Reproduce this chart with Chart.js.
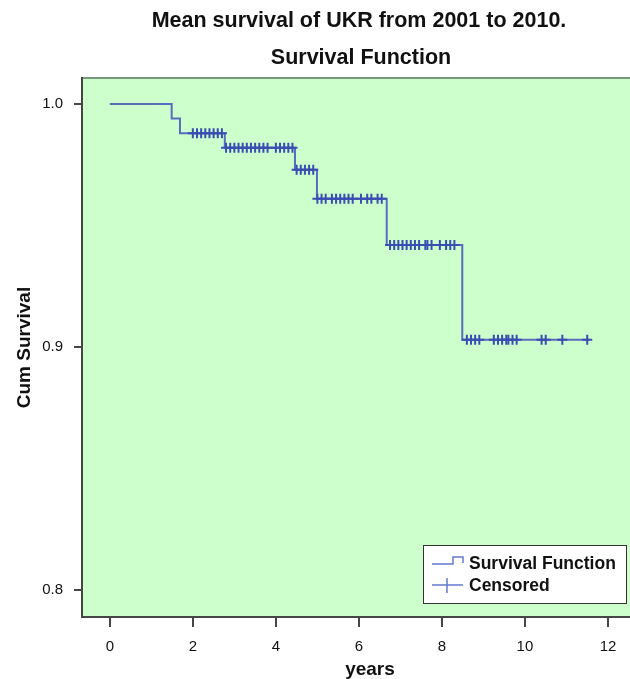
<!DOCTYPE html>
<html>
<head>
<meta charset="utf-8">
<script src="https://cdn.jsdelivr.net/npm/chart.js@4/dist/chart.umd.min.js"></script>
<style>
    html, body { margin: 0; padding: 0; background: #fff; }
    #wrap { width: 630px; height: 679px; }
</style>
</head>
<body>
<div id="wrap"><canvas id="survivalChart" width="630" height="679"></canvas></div>
<script>
// step points of the Kaplan-Meier curve (time in years, cumulative survival)
const eventTimes = [0, 1.49, 1.69, 2.77, 4.46, 4.99, 6.67, 8.49, 11.55];
const survival = [1.0, 0.994, 0.988, 0.982, 0.973, 0.961, 0.942, 0.903, 0.903];

// censored observations (time in years)
const censoredTimes = [
    2.0, 2.1, 2.2, 2.3, 2.4, 2.5, 2.6, 2.7,
    2.8, 2.9, 3.0, 3.1, 3.2, 3.3, 3.4, 3.5, 3.6, 3.7, 3.8, 4.0, 4.1, 4.2, 4.3, 4.4,
    4.5, 4.6, 4.7, 4.8, 4.9,
    5.0, 5.1, 5.2, 5.35, 5.45, 5.55, 5.65, 5.75, 5.85, 6.05, 6.2, 6.3, 6.45, 6.55,
    6.75, 6.85, 6.95, 7.05, 7.15, 7.25, 7.35, 7.45, 7.6, 7.65, 7.75, 7.95, 8.1, 8.2, 8.3,
    8.6, 8.7, 8.8, 8.9, 9.25, 9.35, 9.45, 9.55, 9.6, 9.7, 9.8, 10.4, 10.5, 10.9, 11.5
];

const xTicks = [0, 2, 4, 6, 8, 10, 12];
const yTicks = [0.8, 0.9, 1.0];

const titleLines = ["Mean survival of UKR from 2001 to 2010.", "Survival Function"];
const xTitle = "years";
const yTitle = "Cum Survival";

const lineBlue = 'rgb(88, 108, 192)';
const markBlue = 'rgb(58, 78, 178)';
const plotGreen = 'rgb(204, 255, 204)';
const axisGrey = 'rgb(70, 70, 70)';
const fontFamily = '"Liberation Sans", Arial, sans-serif';

// survival value at time t
function survivalAt(t) {
    let s = survival[0];
    for (let i = 0; i < eventTimes.length; i++) {
        if (eventTimes[i] <= t) s = survival[i];
    }
    return s;
}

const curvePoints = eventTimes.map((t, i) => ({ x: t, y: survival[i] }));
const censoredPoints = censoredTimes.map(t => ({ x: t, y: survivalAt(t) }));

const spssLook = {
    id: 'spssLook',
    beforeDraw(chart) {
        const { ctx, chartArea } = chart;
        ctx.save();
        ctx.fillStyle = plotGreen;
        ctx.fillRect(chartArea.left, chartArea.top, chartArea.right - chartArea.left, chartArea.bottom - chartArea.top);
        ctx.strokeStyle = 'rgb(120, 150, 120)';
        ctx.lineWidth = 2;
        ctx.beginPath();
        ctx.moveTo(chartArea.left, chartArea.top);
        ctx.lineTo(chartArea.right, chartArea.top);
        ctx.stroke();
        ctx.restore();
    },
    afterDraw(chart) {
        const { ctx, chartArea } = chart;
        ctx.save();
        ctx.fillStyle = '#111';
        ctx.textAlign = 'center';
        ctx.textBaseline = 'middle';

        // titles
        ctx.font = 'bold 21.5px ' + fontFamily;
        ctx.fillText(titleLines[0], 359, 21);
        ctx.fillText(titleLines[1], 361, 58);

        // axis titles
        ctx.font = 'bold 19px ' + fontFamily;
        ctx.fillText(xTitle, 370, 670);
        ctx.save();
        ctx.translate(25, (chartArea.top + chartArea.bottom) / 2);
        ctx.rotate(-Math.PI / 2);
        ctx.fillText(yTitle, 0, 0);
        ctx.restore();

        // legend box
        const bx = 423, by = 545, bw = 203, bh = 58;
        ctx.fillStyle = '#fff';
        ctx.fillRect(bx, by, bw, bh);
        ctx.strokeStyle = '#333';
        ctx.lineWidth = 1;
        ctx.strokeRect(bx + 0.5, by + 0.5, bw, bh);

        // step symbol
        ctx.strokeStyle = 'rgb(100, 120, 205)';
        ctx.lineWidth = 1.5;
        ctx.beginPath();
        ctx.moveTo(432, 564);
        ctx.lineTo(453, 564);
        ctx.lineTo(453, 557);
        ctx.lineTo(463, 557);
        ctx.lineTo(463, 563);
        ctx.stroke();

        // censored symbol
        ctx.beginPath();
        ctx.moveTo(432, 585);
        ctx.lineTo(463, 585);
        ctx.moveTo(447, 578);
        ctx.lineTo(447, 593);
        ctx.stroke();

        ctx.fillStyle = '#111';
        ctx.textAlign = 'left';
        ctx.font = 'bold 17.5px ' + fontFamily;
        ctx.fillText(chart.data.datasets[0].label, 469, 564);
        ctx.fillText(chart.data.datasets[1].label, 469, 586);
        ctx.restore();
    }
};

new Chart("survivalChart", {
    data: {
        datasets: [{
            type: 'line',
            label: 'Survival Function',
            data: curvePoints,
            stepped: 'before',
            borderColor: lineBlue,
            borderWidth: 2,
            pointRadius: 0,
            fill: false,
            order: 2
        }, {
            type: 'scatter',
            label: 'Censored',
            data: censoredPoints,
            pointStyle: 'cross',
            pointRadius: 5,
            borderColor: markBlue,
            borderWidth: 2,
            backgroundColor: markBlue,
            order: 1
        }]
    },
    plugins: [spssLook],
    options: {
        responsive: false,
        animation: false,
        layout: { autoPadding: false, padding: { top: 78, left: 0, right: 0, bottom: 0 } },
        plugins: {
            legend: { display: false },
            title: { display: false },
            tooltip: { enabled: false }
        },
        scales: {
            x: {
                type: 'linear',
                min: -0.67,
                max: 12.53,
                afterBuildTicks: scale => { scale.ticks = xTicks.map(v => ({ value: v })); },
                afterFit: scale => {
                    scale.height = 62;
                    scale.paddingLeft = 0;
                    scale.paddingRight = 0;
                },
                ticks: {
                    padding: 11,
                    color: '#111',
                    font: { family: fontFamily, size: 15 },
                    maxRotation: 0,
                    callback: v => String(v)
                },
                grid: { drawOnChartArea: false, drawTicks: true, tickLength: 10, color: axisGrey, lineWidth: 2 },
                border: { display: true, color: axisGrey, width: 2 }
            },
            y: {
                type: 'linear',
                min: 0.789,
                max: 1.0107,
                afterBuildTicks: scale => { scale.ticks = yTicks.map(v => ({ value: v })); },
                afterFit: scale => {
                    scale.width = 82;
                    scale.paddingTop = 0;
                    scale.paddingBottom = 0;
                },
                ticks: {
                    padding: 11,
                    color: '#111',
                    font: { family: fontFamily, size: 15 },
                    callback: v => v.toFixed(1)
                },
                grid: { drawOnChartArea: false, drawTicks: true, tickLength: 8, color: axisGrey, lineWidth: 2 },
                border: { display: true, color: axisGrey, width: 2 }
            }
        }
    }
});
</script>
</body>
</html>
